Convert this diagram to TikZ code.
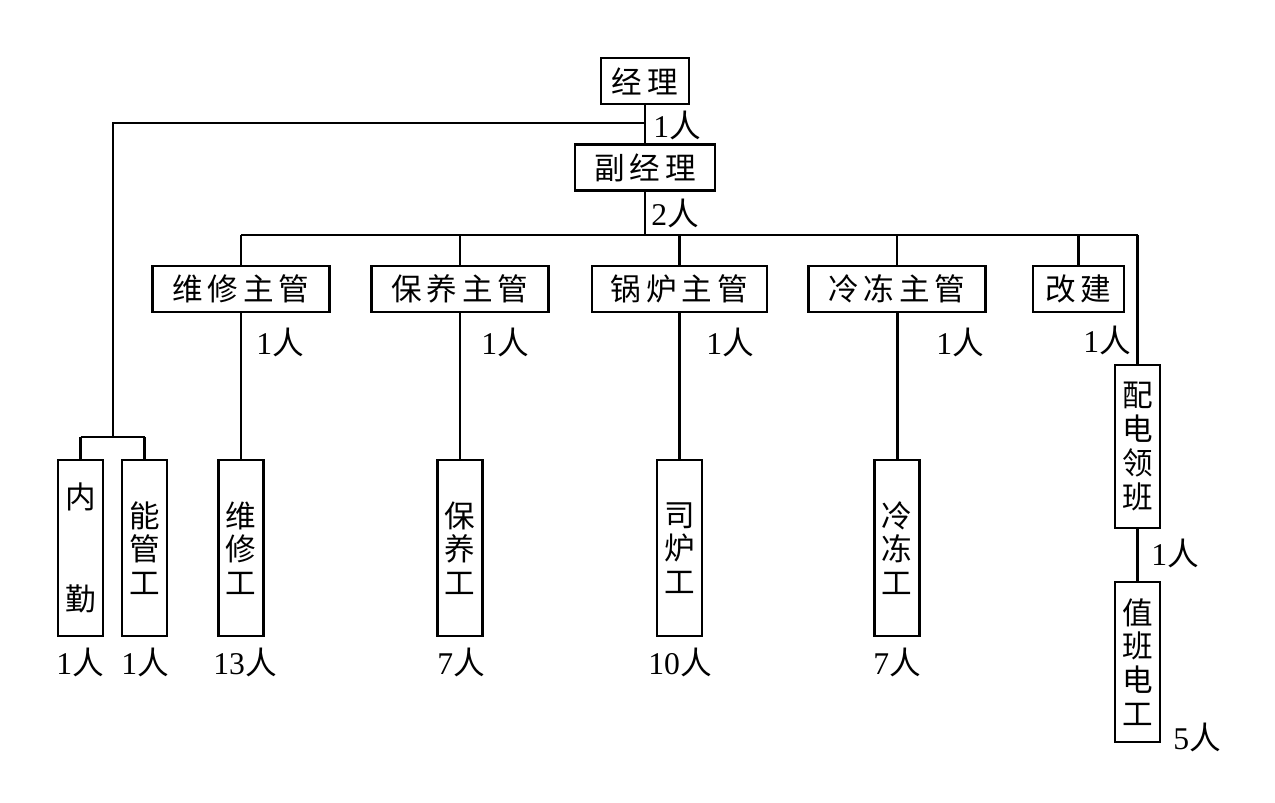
\documentclass[tikz,border=0pt]{standalone}
\usepackage{fontspec}
\setmainfont{Liberation Serif}
\newfontfamily\cjk{Noto Sans CJK SC}
\begin{document}
\begin{tikzpicture}[x=0.01cm,y=-0.01cm,
  hbox/.style={draw,line width=0.8pt,inner sep=0pt,font=\cjk\fontsize{8.7pt}{9.6pt}\selectfont,minimum height=0.46cm},
  vbox/.style={draw,line width=0.8pt,inner sep=0pt,align=center,font=\cjk\fontsize{8.7pt}{9.6pt}\selectfont,minimum width=0.45cm},
  lbl/.style={inner sep=0pt,font=\fontsize{9pt}{10pt}\selectfont},
  conn/.style={line width=0.6pt},
  thick conn/.style={line width=0.85pt}]
\useasboundingbox (0,0) rectangle (1275,803);
% top
\node[hbox,minimum width=0.88cm] (jl) at (645,81) {经\kern1.4pt理};
\node[hbox,minimum width=1.40cm] (fjl) at (645,167.5) {副\kern1.4pt经\kern1.4pt理};
% row boxes
\node[hbox,minimum width=1.77cm] (wxzg) at (241,289) {维\kern1.4pt修\kern1.4pt主\kern1.4pt管};
\node[hbox,minimum width=1.77cm] (byzg) at (460,289) {保\kern1.4pt养\kern1.4pt主\kern1.4pt管};
\node[hbox,minimum width=1.75cm] (glzg) at (679.5,289) {锅\kern1.4pt炉\kern1.4pt主\kern1.4pt管};
\node[hbox,minimum width=1.77cm] (ldzg) at (897,289) {冷\kern1.4pt冻\kern1.4pt主\kern1.4pt管};
\node[hbox,minimum width=0.91cm] (gj) at (1078.5,289) {改\kern1.4pt建};
% worker boxes
\node[vbox,minimum height=1.76cm] (nq) at (80.5,548) {内\\[19.3pt]勤};
\node[vbox,minimum height=1.76cm] (ngg) at (144.5,548) {能\\管\\工};
\node[vbox,minimum height=1.76cm] (wxg) at (241,548) {维\\修\\工};
\node[vbox,minimum height=1.76cm] (byg) at (460,548) {保\\养\\工};
\node[vbox,minimum height=1.76cm] (slg) at (679.5,548) {司\\炉\\工};
\node[vbox,minimum height=1.76cm] (ldg) at (897,548) {冷\\冻\\工};
\node[vbox,minimum height=1.63cm] (pdlb) at (1137.5,446.5) {配\\电\\领\\班};
\node[vbox,minimum height=1.60cm] (zbdg) at (1137.5,662) {值\\班\\电\\工};
% coordinates
\coordinate (top) at (645,123);
\coordinate (lt) at (113,123);
\coordinate (lb) at (113,437);
\coordinate (bl) at (80.5,437);
\coordinate (br) at (144.5,437);
\coordinate (hub) at (645,235);
\coordinate (hl) at (241,235);
\coordinate (hr) at (1137.5,235);
% connectors
\draw[conn] (jl.south) -- (fjl.north);
\draw[conn] (top) -- (lt) -- (lb);
\draw[conn] (bl) -- (br);
\draw[conn] (bl) -- (nq.north);
\draw[thick conn] (br) -- (ngg.north);
\draw[conn] (fjl.south) -- (hub);
\draw[conn] (hl) -- (hr);
\draw[conn] (hl) -- (wxzg.north);
\draw[conn] (byzg.north|-hub) -- (byzg.north);
\draw[conn] (glzg.north|-hub) -- (glzg.north);
\draw[conn] (ldzg.north|-hub) -- (ldzg.north);
\draw[conn] (gj.north|-hub) -- (gj.north);
\draw[thick conn] (hr) -- (pdlb.north);
\draw[thick conn] (wxzg.south) -- (wxg.north);
\draw[conn] (byzg.south) -- (byg.north);
\draw[conn] (glzg.south) -- (slg.north);
\draw[thick conn] (ldzg.south) -- (ldg.north);
\draw[thick conn] (pdlb.south) -- (zbdg.north);
% labels
\node[lbl] (l1) at (677,125) {1{\cjk 人}};
\node[lbl] (l2) at (675,213) {2{\cjk 人}};
\node[lbl] (l3) at (280,342) {1{\cjk 人}};
\node[lbl] (l4) at (505,342) {1{\cjk 人}};
\node[lbl] (l5) at (730,342) {1{\cjk 人}};
\node[lbl] (l6) at (960,342) {1{\cjk 人}};
\node[lbl] (l7) at (1107,340) {1{\cjk 人}};
\node[lbl] (l8) at (1175,553) {1{\cjk 人}};
\node[lbl] (l9) at (1197,737) {5{\cjk 人}};
\node[lbl] (b1) at (80,662) {1{\cjk 人}};
\node[lbl] (b2) at (145,662) {1{\cjk 人}};
\node[lbl] (b3) at (245,662) {13{\cjk 人}};
\node[lbl] (b4) at (461,662) {7{\cjk 人}};
\node[lbl] (b5) at (680,662) {10{\cjk 人}};
\node[lbl] (b6) at (897,662) {7{\cjk 人}};
\end{tikzpicture}
\end{document}
